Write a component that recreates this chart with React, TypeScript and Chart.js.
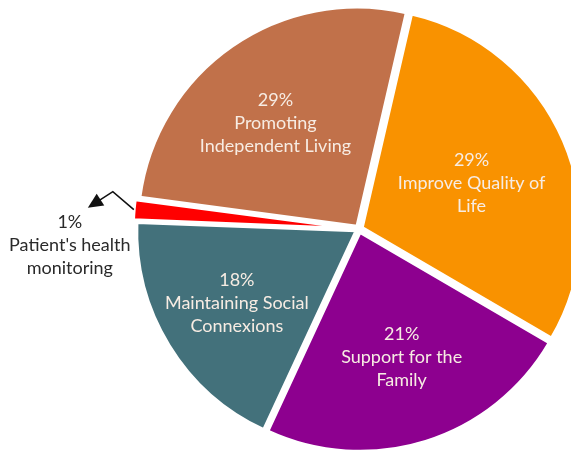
import React, { useEffect, useRef } from 'react';
import { Chart, registerables } from 'chart.js';

Chart.register(...registerables);

// Slice order (clockwise from just right of 12 o'clock)
const categories = [
  'Improve Quality of Life',
  'Support for the Family',
  'Maintaining Social Connexions',
  "Patient's health monitoring",
  'Promoting Independent Living',
];
// Shares as drawn in the picture (angles)
const sliceValues = [29.8, 23.5, 18.7, 1.5, 26.5];
// Percent labels printed on the chart
const percentLabels = ['29%', '21%', '18%', '1%', '29%'];
const labelLines = [
  ['Improve Quality of', 'Life'],
  ['Support for the', 'Family'],
  ['Maintaining Social', 'Connexions'],
  ["Patient's health", 'monitoring'],
  ['Promoting', 'Independent Living'],
];
const sliceColors = ['#F99200', '#8D008F', '#43717B', '#FF0000', '#C1714A'];

// layout constants
const labelRadius = [0.56, 0.62, 0.67, 0, 0.63];
const labelNudge = [
  [0, 3],
  [2, -1],
  [3, -2],
  [0, 0],
  [-5, 8],
];
const FONT = '18px Lato, "Open Sans", sans-serif';
const LINE_H = 23;

const labelPlugin = {
  id: 'sliceLabels',
  afterDatasetsDraw(chart: any) {
    const ctx = chart.ctx;
    const meta = chart.getDatasetMeta(0);
    ctx.save();
    ctx.font = FONT;
    ctx.textAlign = 'center';
    ctx.textBaseline = 'middle';
    meta.data.forEach((arc: any, i: number) => {
      const { x, y, startAngle, endAngle, outerRadius } = arc.getProps(
        ['x', 'y', 'startAngle', 'endAngle', 'outerRadius'],
        true
      );
      const mid = (startAngle + endAngle) / 2;
      const lines = [percentLabels[i], ...labelLines[i]];
      if (i === 3) {
        // external label with arrow
        const p0x = x + Math.cos(mid) * (outerRadius + 7);
        const p0y = y + Math.sin(mid) * (outerRadius + 7);
        const peakX = p0x - 21, peakY = p0y - 18;
        const tipX = p0x - 46, tipY = p0y - 2;
        ctx.strokeStyle = '#111';
        ctx.lineWidth = 1.6;
        ctx.beginPath();
        ctx.moveTo(p0x, p0y);
        ctx.lineTo(peakX, peakY);
        ctx.lineTo(tipX + 8, tipY - 5);
        ctx.stroke();
        const ang = Math.atan2(tipY - peakY, tipX - peakX);
        const len = 15, half = 7;
        const bx = tipX - Math.cos(ang) * len, by = tipY - Math.sin(ang) * len;
        ctx.fillStyle = '#111';
        ctx.beginPath();
        ctx.moveTo(tipX, tipY);
        ctx.lineTo(bx + Math.sin(ang) * half, by - Math.cos(ang) * half);
        ctx.lineTo(bx - Math.sin(ang) * half, by + Math.cos(ang) * half);
        ctx.closePath();
        ctx.fill();
        const cx = p0x - 64, cy = p0y + 35;
        ctx.fillStyle = '#2a2a2a';
        lines.forEach((t, k) => ctx.fillText(t, cx, cy + (k - 1) * LINE_H));
      } else {
        const r = outerRadius * labelRadius[i];
        const cx = x + Math.cos(mid) * r + labelNudge[i][0];
        const cy = y + Math.sin(mid) * r + labelNudge[i][1];
        ctx.fillStyle = '#F7ECE3';
        lines.forEach((t, k) => ctx.fillText(t, cx, cy + (k - 1) * LINE_H));
      }
    });
    ctx.restore();
  },
};

export default function App() {
  const ref = useRef<HTMLCanvasElement>(null);
  useEffect(() => {
    if (!ref.current) return;
    const chart = new Chart(ref.current, {
      type: 'pie',
      data: {
        labels: categories,
        datasets: [
          {
            data: sliceValues,
            backgroundColor: sliceColors,
            borderColor: '#ffffff',
            borderWidth: 3,
            offset: 14,
            radius: 219,
            clip: false,
          } as any,
        ],
      },
      options: {
        responsive: false,
        animation: false,
        events: [],
        rotation: 13,
        layout: { padding: { left: 147, top: 6, right: 0, bottom: 0 } },
        plugins: { legend: { display: false }, tooltip: { enabled: false } },
      },
      plugins: [labelPlugin],
    });
    return () => chart.destroy();
  }, []);
  return (
    <div
      style={{
        position: 'fixed',
        left: 0,
        top: 0,
        width: 571,
        height: 452,
        overflow: 'hidden',
        background: '#ffffff',
      }}
    >
      <canvas ref={ref} width={571} height={452} style={{ display: 'block' }} />
    </div>
  );
}
